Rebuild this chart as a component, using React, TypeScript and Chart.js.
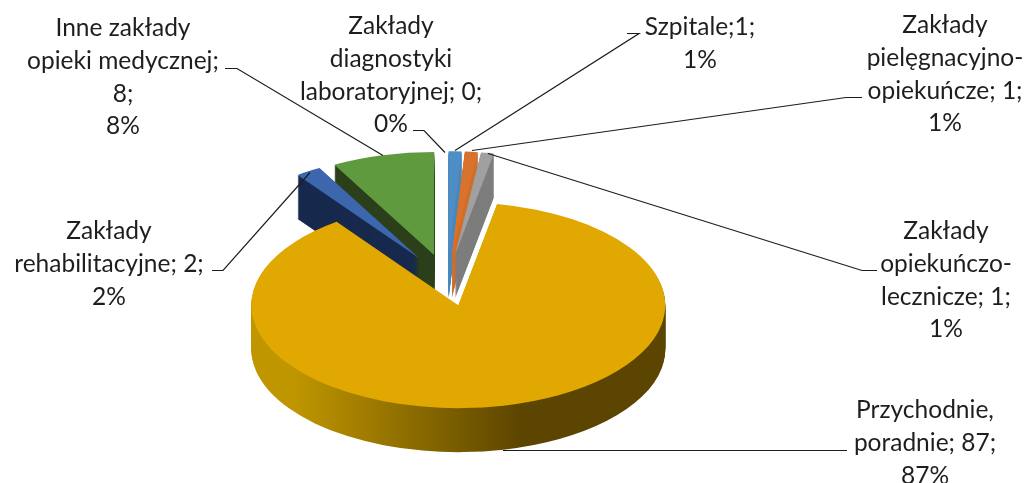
import React, { useEffect, useRef } from "react";
import { Chart, registerables } from "chart.js";

Chart.register(...registerables);

const categories = [
  "Szpitale",
  "Zakłady pielęgnacyjno-opiekuńcze",
  "Zakłady opiekuńczo-lecznicze",
  "Przychodnie, poradnie",
  "Zakłady rehabilitacyjne",
  "Inne zakłady opieki medycznej",
  "Zakłady diagnostyki laboratoryjnej",
];
const values = [1, 1, 1, 87, 2, 8, 0];
const topColors = ["#4d8ec6", "#d9722c", "#a0a0a0", "#e0a800", "#3c66ae", "#5f9a3f", "#4d8ec6"];
const wallColors = ["#4a88bd", "#d26e2b", "#7d7d7d", "#5c4500", "#172a4d", "#2b401a", "#2a4f70"];
const paintOrder = [5, 4, 0, 1, 2, 3];

const labelLines = [
  ["Szpitale;1;", "1%"],
  ["Zakłady", "pielęgnacyjno-", "opiekuńcze; 1;", "1%"],
  ["Zakłady", "opiekuńczo-", "lecznicze; 1;", "1%"],
  ["Przychodnie,", "poradnie; 87;", "87%"],
  ["Zakłady", "rehabilitacyjne; 2;", "2%"],
  ["Inne zakłady", "opieki medycznej;", "8;", "8%"],
  ["Zakłady", "diagnostyki", "laboratoryjnej; 0;", "0%"],
];
const labelCentreX = [700, 945, 946, 925, 109, 123, 391];
const labelFirstY = [27, 25, 231, 410, 231, 28, 26];
const leaders = [
  [[627, 33], [639, 33], [455, 150]],
  [[862, 97], [846, 97], [472, 150]],
  [[877, 270], [862, 270], [488, 153]],
  [[847, 450], [503, 450]],
  [[212, 270], [223, 270], [310, 172]],
  [[225, 68], [237, 68], [383, 155]],
  [[413, 130], [424, 130], [445, 152]],
];

const BASE_RADIUS = 100;
const EXPLODE = 25;
const CENTRE_X = 447;
const CENTRE_Y = 280;
const RX = 207;
const RY = 103;
const DEPTH = 44;
const LINE_HEIGHT = 32.8;
const FONT = '24.5px Lato, "Open Sans", sans-serif';

const pie3d = {
  id: "pie3d",
  beforeDatasetsDraw(chart: any) {
    const ctx = chart.ctx;
    const arcs = chart.getDatasetMeta(0).data;
    for (const i of paintOrder) {
      const arc = arcs[i];
      const base = arc.options;
      let wall: any = wallColors[i];
      if (i === 3) {
        const g = ctx.createLinearGradient(arc.x - BASE_RADIUS, 0, arc.x + BASE_RADIUS, 0);
        g.addColorStop(0, "#c09600");
        g.addColorStop(0.1, "#c09600");
        g.addColorStop(0.65, "#5c4500");
        g.addColorStop(1, "#5c4500");
        wall = g;
      }
      const mid = (arc.startAngle + arc.endAngle) / 2;
      const place = (dy: number) => {
        ctx.translate(CENTRE_X, CENTRE_Y + dy);
        ctx.scale(RX / BASE_RADIUS, RY / BASE_RADIUS);
        ctx.translate(Math.cos(mid) * EXPLODE, Math.sin(mid) * EXPLODE);
        ctx.translate(-arc.x, -arc.y);
      };
      arc.options = { ...base, backgroundColor: wall, borderWidth: 0 };
      for (let d = DEPTH; d > 0; d--) {
        ctx.save();
        place(d);
        arc.draw(ctx);
        ctx.restore();
      }
      arc.options = base;
      ctx.save();
      place(0);
      arc.draw(ctx);
      ctx.restore();
    }
    return false;
  },
  afterDraw(chart: any) {
    const ctx = chart.ctx;
    ctx.save();
    ctx.strokeStyle = "#1c1c1c";
    ctx.lineWidth = 1.2;
    for (const pts of leaders) {
      ctx.beginPath();
      pts.forEach((p, k) => (k ? ctx.lineTo(p[0], p[1] + 0.5) : ctx.moveTo(p[0], p[1] + 0.5)));
      ctx.stroke();
    }
    ctx.fillStyle = "#1e1e1e";
    ctx.font = FONT;
    ctx.textAlign = "center";
    ctx.textBaseline = "middle";
    labelLines.forEach((lines, i) => {
      lines.forEach((line, k) => {
        ctx.fillText(line, labelCentreX[i], labelFirstY[i] + k * LINE_HEIGHT);
      });
    });
    ctx.restore();
  },
};

export default function App() {
  const ref = useRef<HTMLCanvasElement>(null);
  useEffect(() => {
    const chart = new Chart(ref.current as HTMLCanvasElement, {
      type: "pie",
      data: {
        labels: categories,
        datasets: [
          {
            data: values,
            backgroundColor: topColors,
            borderWidth: 0,
            radius: BASE_RADIUS,
          } as any,
        ],
      },
      options: {
        animation: false,
        responsive: false,
        plugins: { legend: { display: false }, tooltip: { enabled: false } },
      },
      plugins: [pie3d as any],
    });
    return () => chart.destroy();
  }, []);
  return (
    <canvas
      ref={ref}
      width={1025}
      height={483}
      style={{ position: "absolute", left: 0, top: 0, background: "#ffffff" }}
    />
  );
}
